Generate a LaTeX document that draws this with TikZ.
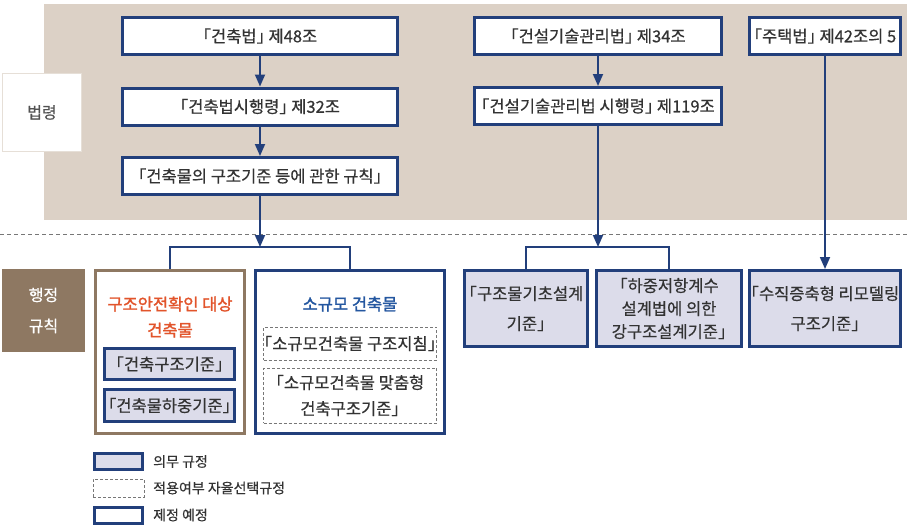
\documentclass[tikz,border=0pt]{standalone}
\usepackage{fontspec}
\setmainfont{Noto Sans CJK KR}[RawFeature=+halt, FakeBold=0.5]
\newfontfamily\titlefont{Noto Sans CJK KR}[RawFeature=+halt, FakeBold=1.6]
\usetikzlibrary{arrows.meta}
\definecolor{navy}{HTML}{223F7B}
\definecolor{lav}{HTML}{DCDCEA}
\definecolor{beige}{HTML}{DCD1C6}
\definecolor{brownc}{HTML}{8E7862}
\definecolor{txt}{HTML}{333333}
\definecolor{redt}{HTML}{E2542B}
\definecolor{bluet}{HTML}{2457A0}
\definecolor{dashc}{HTML}{777777}
\begin{document}
\begin{tikzpicture}[x=1pt,y=-1pt,
  law/.style={draw=navy, line width=3pt, fill=white, text=txt, inner sep=0pt, align=center, font=\fontsize{16.5}{23}\selectfont},
  oblig/.style={law, fill=lav},
  dbox/.style={draw=dashc, dash pattern=on 3pt off 2pt, line width=0.8pt, fill=white, text=txt, inner sep=0pt, align=center, font=\fontsize{16.5}{26}\selectfont},
  conn/.style={draw=navy, line width=1.8pt},
  arr/.style={conn, -{Triangle[width=10pt,length=12pt]}},
  lgtxt/.style={anchor=west, text=txt, inner sep=0pt, font=\fontsize{14}{15}\selectfont}
]
\useasboundingbox (0,0) rectangle (910,528);
% background
\fill[beige] (44,4) rectangle (907,220);
\node[draw=beige!70!white, line width=1.5pt, fill=white, minimum width=79, minimum height=78, text=txt!85!white, font=\fontsize{16}{18}\selectfont] (ll) at (42,112.5) {법령};
\draw[dashc, line width=0.9pt, dash pattern=on 4pt off 3pt] (0,234) -- (910,234);
\node[fill=brownc, minimum width=83, minimum height=83, text=white, align=center, font=\fontsize{16}{31}\selectfont] (hr) at (43.5,310.5) {행정\\규칙};

% law column 1
\node[law, minimum width=275, minimum height=37] (a1) at (260,36) {「건축법」 제48조};
\node[law, minimum width=275, minimum height=37] (a2) at (260,106.5) {「건축법시행령」 제32조};
\node[law, minimum width=275, minimum height=37] (a3) at (260,176) {「건축물의 구조기준 등에 관한 규칙」};
% column 2
\node[law, minimum width=247, minimum height=37] (b1) at (598,36) {「건설기술관리법」 제34조};
\node[law, minimum width=247, minimum height=37] (b2) at (598,106) {「건설기술관리법 시행령」 제119조};
% column 3
\node[law, minimum width=151, minimum height=37] (c1) at (825,36) {「주택법」 제42조의 5};

% lower left groups
\node[draw=brownc, line width=2.5pt, fill=white, minimum width=149, minimum height=163] (g1) at (170,352) {};
\node[text=redt, align=center, font=\titlefont\fontsize{16.5}{26}\selectfont] (g1t) at (170,317) {구조안전확인 대상\\건축물};
\node[oblig, minimum width=130, minimum height=31] (g1a) at (169.5,364) {「건축구조기준」};
\node[oblig, minimum width=130, minimum height=32] (g1b) at (169.5,405.5) {「건축물하중기준」};

\node[draw=navy, line width=3pt, fill=white, minimum width=189, minimum height=163] (g2) at (350,352) {};
\node[text=bluet, font=\titlefont\fontsize{16.5}{20}\selectfont] (g2t) at (350,304) {소규모 건축물};
\node[dbox, minimum width=173, minimum height=33] (g2a) at (350,343.5) {「소규모건축물 구조지침」};
\node[dbox, minimum width=173, minimum height=55] (g2b) at (350,395.5) {「소규모건축물 맞춤형\\건축구조기준」};

% lower middle/right
\node[oblig, minimum width=123, minimum height=76, font=\fontsize{16.5}{30}\selectfont] (m1) at (526,308.5) {「구조물기초설계\\기준」};
\node[oblig, minimum width=145, minimum height=76] (m2) at (669,308.5) {「하중저항계수\\설계법에 의한\\강구조설계기준」};
\node[oblig, minimum width=151, minimum height=76, font=\fontsize{16.5}{30}\selectfont] (r1) at (825,308.5) {「수직증축형 리모델링\\구조기준」};

% connectors
\coordinate (j1) at (260,247);
\coordinate (j2) at (598,247);
\draw[arr] (a1) -- (a2);
\draw[arr] (a2) -- (a3);
\draw[arr] (a3) -- (j1);
\draw[conn] (g1.north) |- (j1) -| (g2.north);
\draw[arr] (b1) -- (b2);
\draw[arr] (b2) -- (j2);
\draw[conn] (m1.north) |- (j2) -| (m2.north);
\draw[arr] (c1) -- (r1);

% legend
\node[draw=navy, line width=3pt, fill=lav, minimum width=48, minimum height=16, inner sep=0pt] (k1) at (118.5,461.5) {};
\node[draw=dashc, dash pattern=on 3pt off 2pt, line width=0.8pt, minimum width=51, minimum height=18, inner sep=0pt] (k2) at (118.5,488) {};
\node[draw=navy, line width=3pt, fill=white, minimum width=48, minimum height=16, inner sep=0pt] (k3) at (118.5,515) {};
\node[lgtxt] (t1) at (153,461.5) {의무 규정};
\node[lgtxt] (t2) at (153,488) {적용여부 자율선택규정};
\node[lgtxt] (t3) at (153,515) {제정 예정};
\end{tikzpicture}
\end{document}
